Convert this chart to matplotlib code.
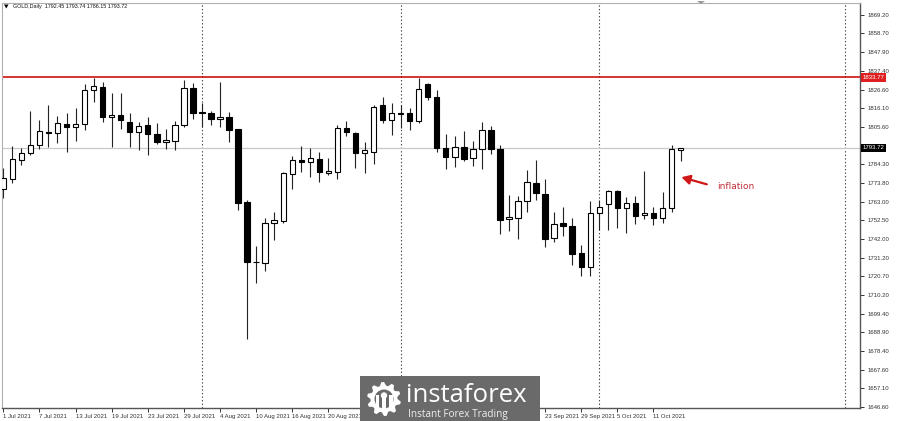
import matplotlib
matplotlib.use("Agg")
import matplotlib.pyplot as plt
import numpy as np
from matplotlib.patches import Rectangle, Polygon, Circle

# ---------------- data ----------------
opens = [1770.2, 1775.9, 1786.9, 1790.6, 1795.6, 1803.0, 1802.4, 1807.3, 1805.4, 1807.1,
         1826.6, 1828.5, 1811.1, 1812.4, 1808.6, 1803.0, 1806.8, 1801.6, 1796.9, 1797.8,
         1806.8, 1827.6, 1813.9, 1813.8, 1810.0, 1811.3, 1804.3, 1763.2, 1729.1, 1728.5,
         1750.9, 1752.4, 1778.9, 1786.9, 1785.5, 1787.2, 1779.7, 1779.9, 1804.8, 1802.4,
         1790.6, 1791.6, 1818.1, 1809.6, 1813.2, 1813.4, 1809.0, 1830.0, 1822.4, 1793.5,
         1788.4, 1794.1, 1787.8, 1792.9, 1803.9, 1792.9, 1753.2, 1753.7, 1763.8, 1773.8,
         1767.8, 1742.3, 1750.9, 1749.5, 1733.9, 1725.9, 1756.6, 1761.9, 1769.5, 1759.4,
         1762.3, 1755.4, 1756.6, 1753.7, 1759.4, 1792.45]
highs = [1782.1, 1794.8, 1793.5, 1814.9, 1809.6, 1818.1, 1812.0, 1813.4, 1816.6, 1830.0,
         1833.6, 1831.3, 1824.7, 1824.7, 1813.4, 1808.6, 1811.5, 1807.7, 1804.5, 1809.0,
         1832.3, 1830.4, 1819.0, 1814.9, 1831.3, 1813.9, 1804.6, 1764.1, 1738.0, 1753.7,
         1757.5, 1780.2, 1789.1, 1795.0, 1793.5, 1791.6, 1787.8, 1806.7, 1809.2, 1803.0,
         1797.3, 1818.1, 1822.8, 1819.0, 1818.0, 1816.2, 1833.2, 1830.6, 1826.6, 1801.6,
         1800.5, 1803.3, 1797.8, 1808.3, 1806.2, 1795.4, 1767.0, 1766.4, 1781.2, 1786.9,
         1775.9, 1757.3, 1760.4, 1753.7, 1738.6, 1763.6, 1764.2, 1769.8, 1770.0, 1766.0,
         1766.4, 1780.8, 1760.4, 1768.9, 1795.4, 1793.74]
lows = [1765.3, 1773.6, 1784.0, 1789.7, 1793.1, 1794.1, 1796.3, 1791.2, 1797.8, 1803.9,
        1819.6, 1808.6, 1794.4, 1804.3, 1794.1, 1792.6, 1789.7, 1796.0, 1792.9, 1792.6,
        1805.4, 1810.0, 1805.4, 1806.8, 1805.8, 1797.3, 1758.5, 1685.0, 1717.2, 1723.8,
        1741.4, 1751.3, 1770.2, 1780.2, 1777.0, 1774.2, 1778.3, 1776.1, 1800.5, 1782.1,
        1779.7, 1784.6, 1807.7, 1801.1, 1805.0, 1803.9, 1808.1, 1820.9, 1791.6, 1781.8,
        1783.1, 1786.5, 1783.5, 1781.8, 1790.3, 1744.8, 1746.7, 1742.2, 1757.5, 1764.0,
        1737.6, 1740.1, 1743.8, 1727.2, 1721.0, 1721.2, 1747.1, 1747.1, 1748.1, 1745.6,
        1750.5, 1753.2, 1750.0, 1750.9, 1757.5, 1786.15]
closes = [1776.5, 1787.2, 1790.6, 1795.6, 1803.3, 1802.4, 1807.7, 1805.4, 1807.1, 1826.6,
          1829.1, 1811.5, 1812.2, 1809.6, 1803.0, 1806.2, 1801.5, 1797.3, 1798.2, 1806.8,
          1827.6, 1813.8, 1813.4, 1810.1, 1811.5, 1803.9, 1762.3, 1729.1, 1728.7, 1750.9,
          1752.8, 1779.7, 1786.9, 1785.7, 1787.8, 1779.9, 1780.8, 1804.8, 1802.6, 1790.6,
          1792.5, 1816.8, 1809.6, 1813.4, 1813.4, 1809.2, 1827.0, 1822.8, 1793.5, 1788.8,
          1794.1, 1787.2, 1792.9, 1803.9, 1792.9, 1752.8, 1754.3, 1763.6, 1774.2, 1768.0,
          1742.0, 1750.3, 1749.5, 1733.5, 1725.9, 1756.6, 1760.0, 1769.5, 1759.8, 1762.3,
          1755.3, 1756.6, 1753.7, 1759.8, 1792.9, 1793.72]

# visible date labels (the ones between 20 Aug and 23 Sep are hidden by the logo)
date_labels = ["1 Jul 2021", "7 Jul 2021", "13 Jul 2021", "19 Jul 2021", "23 Jul 2021",
               "29 Jul 2021", "4 Aug 2021", "10 Aug 2021", "16 Aug 2021", "20 Aug 2021",
               "23 Sep 2021", "29 Sep 2021", "5 Oct 2021", "11 Oct 2021"]
date_label_bars = [0, 4, 8, 12, 16, 20, 24, 28, 32, 36, 60, 64, 68, 72]
price_ticks = [1869.20, 1858.70, 1847.90, 1837.40, 1826.60, 1816.10, 1805.60, 1784.30,
               1773.80, 1763.00, 1752.50, 1742.00, 1731.20, 1720.70, 1710.20, 1699.40,
               1688.90, 1678.40, 1667.60, 1657.10, 1646.60]
separator_bars = [22, 44, 66, 93.2]
resistance = 1833.77
last_price = 1793.72
title = "GOLD,Daily  1792.45 1793.74 1786.15 1793.72"
annotation = "inflation"

# ---------------- figure ----------------
W, H = 900, 421
fig = plt.figure(figsize=(W / 100, H / 100), dpi=100)
fig.patch.set_facecolor("white")

def fx(px):
    return px / W

def fy(py):
    return 1 - py / H

ax = fig.add_axes([fx(2), fy(408), fx(860) - fx(2), fy(3) - fy(408)])
ax.set_facecolor("white")
ax.set_xlim(-0.144, 94.87)
ax.set_ylim(1646.0, 1876.0)

o = np.array(opens); h = np.array(highs); l = np.array(lows); c = np.array(closes)
x = np.arange(len(o))

# separators
for sb in separator_bars:
    ax.axvline(sb, color="#444444", lw=0.8, ls=(0, (1.2, 2.0)), zorder=1)

# horizontal lines
ax.axhline(last_price, color="#c8c8c8", lw=0.9, zorder=1)
ax.axhline(resistance, color="#d01010", lw=1.2, zorder=1)

# wicks
ax.vlines(x, l, h, color="#222222", lw=0.8, zorder=2)
# bodies
bottoms = np.minimum(o, c)
heights = np.maximum(np.abs(c - o), 0.45)
up = c >= o
ax.bar(x[up], heights[up], bottom=bottoms[up], width=0.6, facecolor="white",
       edgecolor="black", linewidth=0.8, zorder=3)
ax.bar(x[~up], heights[~up], bottom=bottoms[~up], width=0.6, facecolor="black",
       edgecolor="black", linewidth=0.8, zorder=3)

# axes styling
for s in ["top", "left"]:
    ax.spines[s].set_color("#b0b0b0")
    ax.spines[s].set_linewidth(0.8)
for s in ["right", "bottom"]:
    ax.spines[s].set_color("#555555")
    ax.spines[s].set_linewidth(1.0)

FONT = ["Liberation Sans", "DejaVu Sans"]
tick_font = dict(family=FONT, size=4.3)
ax.yaxis.tick_right()
ax.set_yticks(price_ticks)
ax.set_yticklabels([f"{v:.2f}" for v in price_ticks], fontdict=tick_font, color="#222222")
ax.tick_params(axis="y", direction="out", length=3, width=0.7, pad=2.5, colors="#333333")
ax.set_xticks(date_label_bars)
ax.set_xticklabels(date_labels, fontdict=tick_font, color="#222222")
ax.tick_params(axis="x", direction="out", length=3, width=0.7, pad=1.5, colors="#333333")
for lab in ax.get_xticklabels():
    lab.set_horizontalalignment("left")

# price boxes on right axis
def price_box(val, fc):
    ax.annotate(f"{val:.2f}", xy=(1.0, val), xycoords=("axes fraction", "data"),
                xytext=(2, 0), textcoords="offset points",
                ha="left", va="center", color="white",
                fontfamily=FONT, fontsize=4.3,
                bbox=dict(boxstyle="square,pad=0.3", fc=fc, ec="none"),
                annotation_clip=False, zorder=10)

price_box(resistance, "#e02020")
price_box(last_price, "black")

# annotation
ax.annotate("", xy=(74.8, 1777.5), xytext=(78.2, 1772.6),
            arrowprops=dict(arrowstyle="-|>,head_length=0.5,head_width=0.28",
                            color="#d01818", lw=1.6), zorder=6)
ax.text(79.0, 1772.0, annotation, color="#c0303a", fontsize=6.5, va="center", ha="left",
        family="DejaVu Sans")

# title
fig.text(fx(13), fy(6.5), title, fontsize=3.9, va="center", ha="left", color="#111111",
         family=FONT)
fig.patches.append(Polygon([[fx(4), fy(4.5)], [fx(8.5), fy(4.5)], [fx(6.25), fy(8.5)]],
                           closed=True, transform=fig.transFigure, fc="black", ec="none"))

# chart shift marker
fig.patches.append(Polygon([[fx(697), fy(1)], [fx(705), fy(1)], [fx(701), fy(4)]],
                           closed=True, transform=fig.transFigure, fc="#999999", ec="none"))

# ---------------- watermark ----------------
wm = fig.add_axes([fx(360), 0, fx(540) - fx(360), fy(376)])
wm.set_xlim(360, 540)
wm.set_ylim(421, 376)
wm.axis("off")
wm.add_patch(Rectangle((360, 376), 180, 45, fc="#6a6a6a", ec="none"))
# gear icon
cx, cy, r_out, r_in = 384, 399, 17, 13.5
nt = 10
pts = []
for k in range(nt * 4):
    ang = 2 * np.pi * k / (nt * 4)
    rr = r_out if (k % 4) in (1, 2) else r_in
    pts.append((cx + rr * np.cos(ang), cy + rr * np.sin(ang)))
wm.add_patch(Polygon(pts, closed=True, fc="white", ec="none"))
wm.add_patch(Circle((cx, cy), 9.5, fc="#6a6a6a", ec="none"))
wm.add_patch(Circle((cx, cy - 3.5), 3.2, fc="white", ec="none"))
wm.add_patch(Rectangle((cx - 2.2, cy - 1), 4.4, 14, fc="white", ec="none"))
wm.add_patch(Rectangle((cx - 8.5, cy - 4), 3.2, 14, fc="white", ec="none"))
wm.add_patch(Rectangle((cx + 5.3, cy - 4), 3.2, 14, fc="white", ec="none"))
wm.text(406, 401.5, "instaforex", color="white", fontsize=18.5, family="Open Sans",
        va="baseline", ha="left")
wm.text(407.5, 417.5, "Instant Forex Trading", color="#f0f0f0", fontsize=7.2,
        family="Open Sans", va="baseline", ha="left")

fig.savefig("out.png", dpi=100, facecolor="white")
